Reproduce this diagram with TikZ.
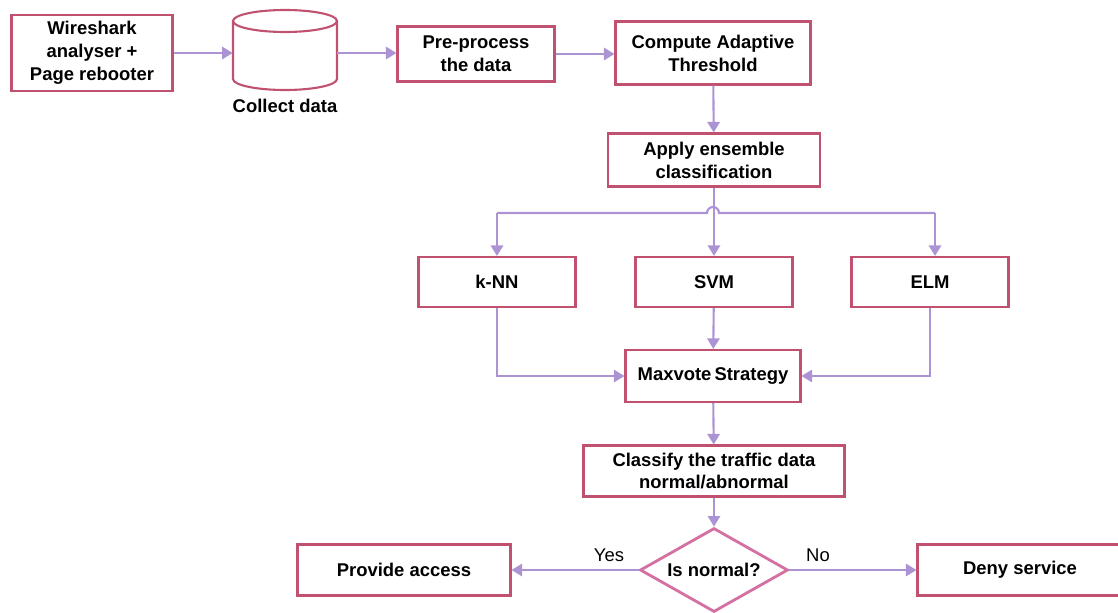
\documentclass[tikz,border=0pt]{standalone}
\usepackage{fontspec}
\setmainfont{Liberation Sans}
\usetikzlibrary{shapes.geometric,arrows.meta}

\definecolor{boxred}{RGB}{192,82,112}
\definecolor{diapink}{RGB}{212,112,162}
\definecolor{flow}{RGB}{172,148,212}

\tikzset{
	stagebox/.style={draw=boxred, line width=1.2pt, fill=white, align=center,
		font=\bfseries\fontsize{10.5pt}{13pt}\selectfont, inner sep=2pt},
	flowline/.style={draw=flow, line width=1.2pt},
	flowarrow/.style={flowline, -{Triangle[width=7pt,length=6pt]}},
}

\begin{document}
\begin{tikzpicture}[x=0.02cm, y=-0.02cm]
			\useasboundingbox (0,0) rectangle (1118,612);
			% data collection row
			\node[stagebox, minimum width=3.22cm, minimum height=1.52cm] (wire) at (92,53) {Wireshark\\analyser +\\Page rebooter};
			\node[minimum width=2.08cm, minimum height=1.6cm, inner sep=0pt] (db) at (285,50) {};
			\draw[boxred, line width=1.2pt] (285,21) ellipse[x radius=1.04cm, y radius=0.22cm];
			\draw[boxred, line width=1.2pt] (233,21) -- (233,79)
				arc[start angle=180, end angle=360, x radius=1.04cm, y radius=0.22cm] -- (337,21);
			\node[font=\bfseries\fontsize{10.5pt}{13pt}\selectfont] (collect) at (285,106) {Collect data};
			\node[stagebox, minimum width=3.14cm, minimum height=1.10cm] (prep) at (476,54) {Pre-process\\the data};
			\node[stagebox, minimum width=3.90cm, minimum height=1.26cm] (thresh) at (713,53) {Compute Adaptive\\Threshold};
			\node[stagebox, minimum width=4.24cm, minimum height=1.06cm] (ensemble) at (714,160) {Apply ensemble\\classification};
			% classifiers
			\foreach \name/\txt/\x in {knn/k-NN/497, svm/SVM/714, elm/ELM/930}
				\node[stagebox, minimum width=3.14cm, minimum height=1.0cm] (\name) at (\x,282) {\txt};
			\node[stagebox, minimum width=3.5cm, minimum height=1.04cm] (vote) at (713,376) {Maxvote\,Strategy};
			\node[stagebox, minimum width=5.22cm, minimum height=1.02cm] (classify) at (714,471) {Classify the traffic data\\normal/abnormal};
			\node[diamond, draw=diapink, line width=1.6pt, fill=white, aspect=1.76, inner sep=0pt,
				minimum width=2.96cm, minimum height=1.68cm, font=\bfseries\fontsize{10.5pt}{13pt}\selectfont] (check) at (714,570) {Is normal?};
			\node[stagebox, minimum width=4.26cm, minimum height=1.02cm] (access) at (404,570) {Provide access};
			\node[stagebox, minimum width=4.1cm, minimum height=1.02cm] (deny) at (1020,570) {Deny service};
			% connectors
			\draw[flowarrow] (wire) -- (wire -| db.west);
			\draw[flowarrow] (db.east |- wire) -- (db.east |- wire -| prep.west);
			\draw[flowarrow] (prep) -- (prep -| thresh.west);
			\draw[flowarrow] (thresh) -- (ensemble);
			\draw[flowarrow] (ensemble) -- (svm);
			\coordinate (split-l) at (497,213);
			\coordinate (split-r) at (935,213);
			\draw[flowline] (split-l) -- (707,213) arc[start angle=180, end angle=0, radius=0.12cm] -- (split-r);
			\draw[flowarrow] (split-l) -- (knn);
			\draw[flowarrow] (split-r) -- (split-r |- elm.north);
			\draw[flowarrow] (knn) |- (vote);
			\draw[flowarrow] (elm) |- (vote);
			\draw[flowarrow] (svm) -- (vote);
			\draw[flowarrow] (vote) -- (classify);
			\draw[flowarrow] (classify) -- (check);
			\draw[flowarrow] (check) -- (access);
			\draw[flowarrow] (check) -- (deny);
			\node[font=\fontsize{10.5pt}{13pt}\selectfont] (yes) at (609,555) {Yes};
			\node[font=\fontsize{10.5pt}{13pt}\selectfont] (no) at (818,555) {No};
		\end{tikzpicture}
\end{document}
